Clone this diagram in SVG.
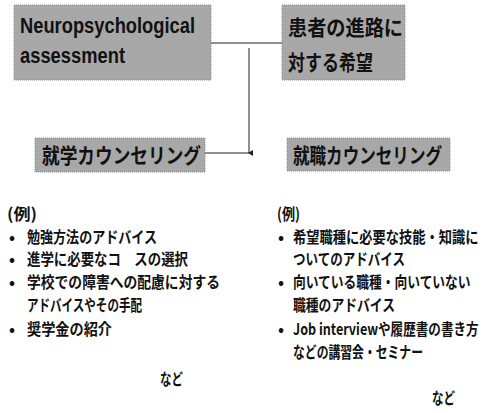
<svg xmlns="http://www.w3.org/2000/svg" width="487" height="413" viewBox="0 0 487 413">
<style>
.box{fill:#a8a8a8;stroke:#8a8a8a;stroke-width:1;stroke-dasharray:1 1}
.en{font-family:"Liberation Sans","Noto Sans",sans-serif;font-weight:700;font-size:22px;fill:#111}
.jp{font-family:"Noto Sans CJK JP","Noto Sans",sans-serif;font-weight:700;fill:#111}
.bt{font-size:21px}
.li{font-size:16px}
.conn{stroke:#222;stroke-width:1;fill:none}
</style>
<defs>
<marker id="arr" viewBox="0 0 6 6" refX="3" refY="5" markerWidth="6" markerHeight="6" orient="auto-start-reverse" markerUnits="userSpaceOnUse">
<path d="M0,1 L6,1 L3,6 Z" fill="#222"/>
</marker>
</defs>
<g id="connectors">
<line class="conn" x1="211" y1="43" x2="282" y2="43"/>
<line class="conn" x1="249" y1="48" x2="249" y2="153" marker-end="url(#arr)"/>
<line class="conn" x1="205" y1="153" x2="249" y2="153"/>
</g>
<g id="node-assessment">
<rect class="box" x="14" y="5" width="197" height="75"/>
<text class="en" x="20" y="33" textLength="175" lengthAdjust="spacingAndGlyphs">Neuropsychological</text>
<text class="en" x="20" y="63" textLength="105" lengthAdjust="spacingAndGlyphs">assessment</text>
</g>
<g id="node-hope">
<rect class="box" x="282" y="5" width="123" height="75"/>
<text class="jp bt" x="288" y="35" textLength="115" lengthAdjust="spacingAndGlyphs">患者の進路に</text>
<text class="jp bt" x="288" y="70" textLength="85" lengthAdjust="spacingAndGlyphs">対する希望</text>
</g>
<g id="node-school">
<rect class="box" x="35" y="138" width="170" height="34"/>
<text class="jp bt" x="42" y="163" textLength="159" lengthAdjust="spacingAndGlyphs">就学カウンセリング</text>
</g>
<g id="node-job">
<rect class="box" x="287" y="138" width="163" height="33"/>
<text class="jp bt" x="293" y="163" textLength="149" lengthAdjust="spacingAndGlyphs">就職カウンセリング</text>
</g>
<g id="list-school" class="jp li">
<text x="7" y="220" textLength="30" lengthAdjust="spacingAndGlyphs">(例)</text>
<text x="9" y="243">•</text>
<text x="27" y="243" textLength="130" lengthAdjust="spacingAndGlyphs">勉強方法のアドバイス</text>
<text x="9" y="265">•</text>
<text x="27" y="265" textLength="161" lengthAdjust="spacingAndGlyphs">進学に必要なコ　スの選択</text>
<text x="9" y="288">•</text>
<text x="27" y="288" textLength="193" lengthAdjust="spacingAndGlyphs">学校での障害への配慮に対する</text>
<text x="27" y="311" textLength="115" lengthAdjust="spacingAndGlyphs">アドバイスやその手配</text>
<text x="9" y="335">•</text>
<text x="27" y="335" textLength="85" lengthAdjust="spacingAndGlyphs">奨学金の紹介</text>
<text x="160" y="385" textLength="23" lengthAdjust="spacingAndGlyphs">など</text>
</g>
<g id="list-job" class="jp li">
<text x="277" y="220" textLength="23" lengthAdjust="spacingAndGlyphs">(例)</text>
<text x="278" y="243">•</text>
<text transform="translate(293,243) scale(0.8,1)" x="0" y="0" textLength="232" lengthAdjust="spacingAndGlyphs">希望職種に必要な技能・知識に</text>
<text x="293" y="265" textLength="112" lengthAdjust="spacingAndGlyphs">ついてのアドバイス</text>
<text x="278" y="288">•</text>
<text transform="translate(293,288) scale(0.8,1)" x="0" y="0" textLength="222" lengthAdjust="spacingAndGlyphs">向いている職種・向いていない</text>
<text x="293" y="311" textLength="102" lengthAdjust="spacingAndGlyphs">職種のアドバイス</text>
<text x="278" y="335">•</text>
<text transform="translate(293,335) scale(0.68,1)" x="0" y="0" textLength="273" lengthAdjust="spacingAndGlyphs">Job interviewや履歴書の書き方</text>
<text x="293" y="358" textLength="130" lengthAdjust="spacingAndGlyphs">などの講習会・セミナー</text>
<text x="432" y="404" textLength="23" lengthAdjust="spacingAndGlyphs">など</text>
</g>
</svg>
